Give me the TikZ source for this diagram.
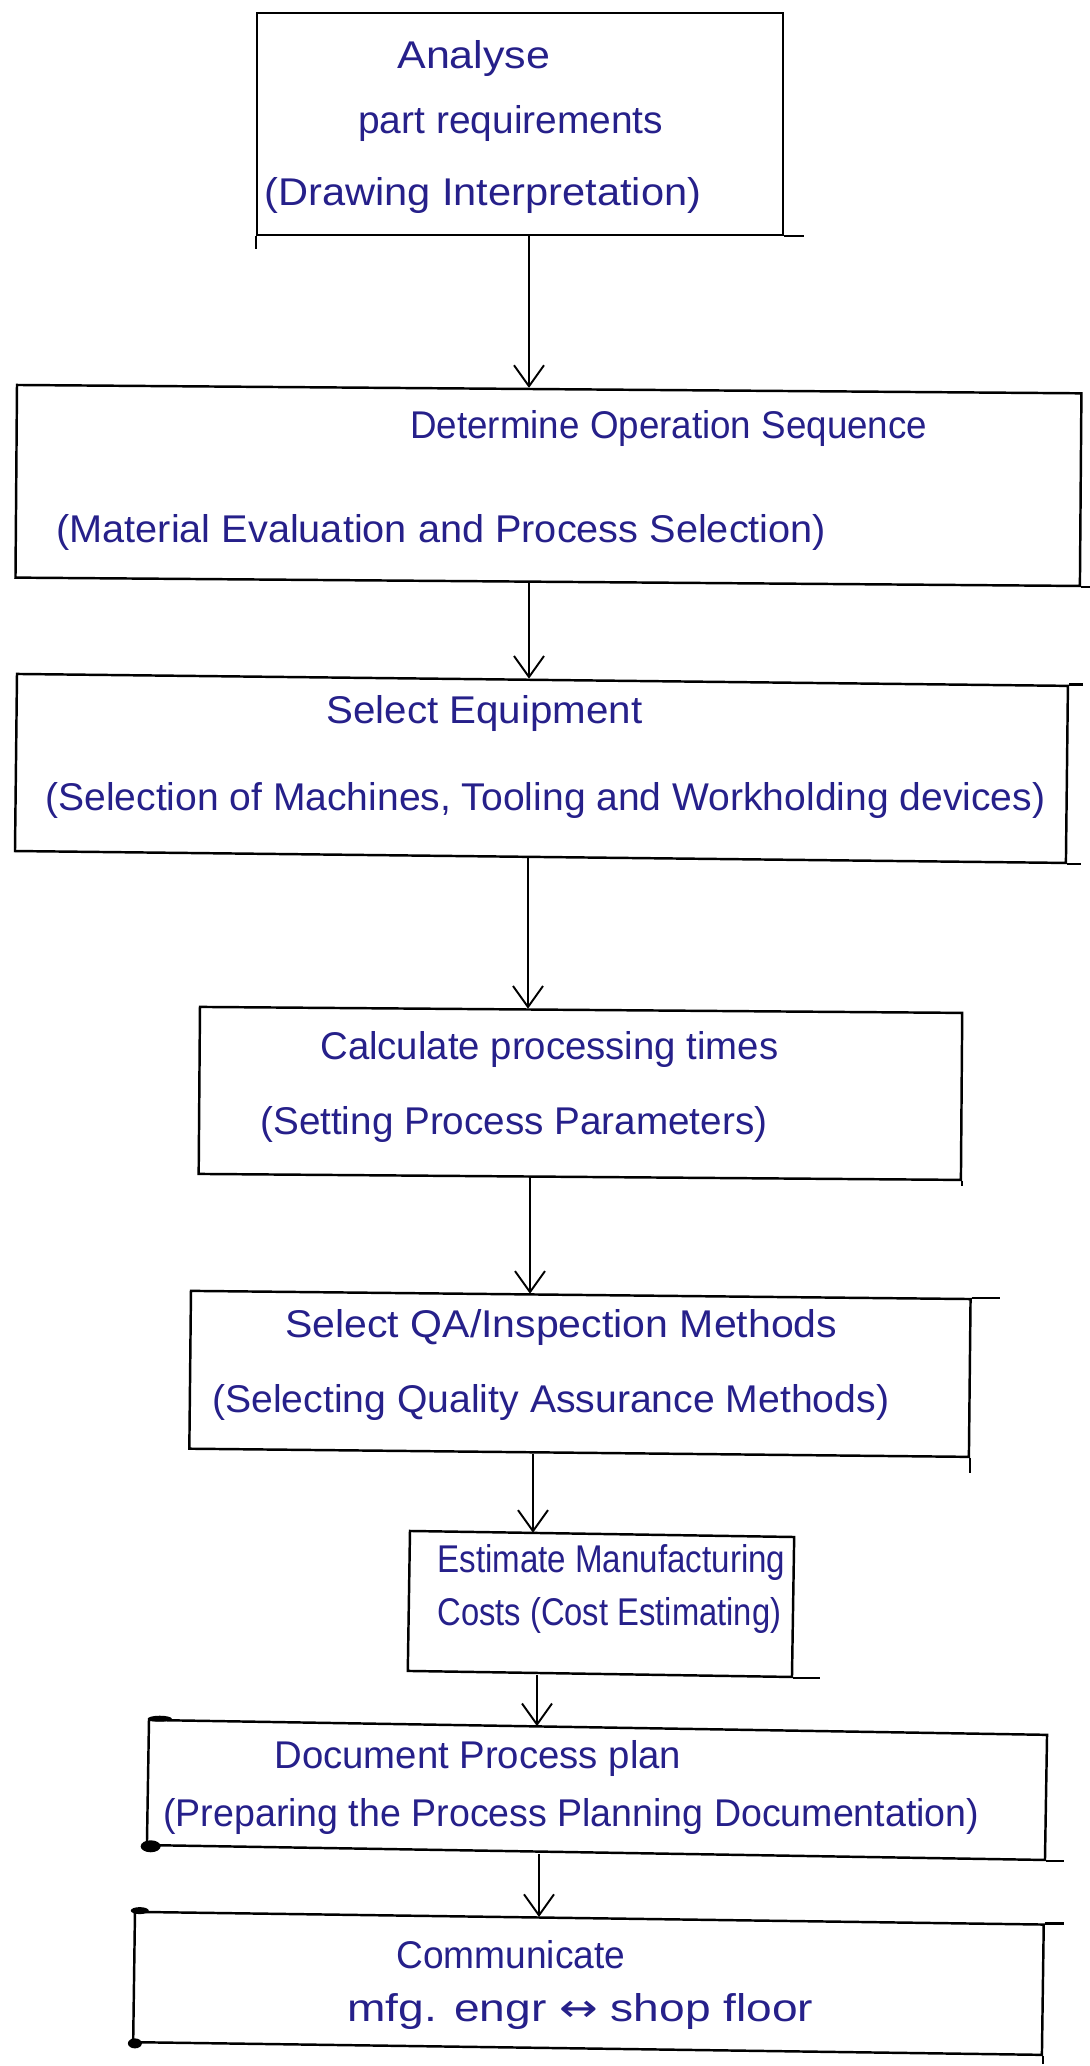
\documentclass[tikz,border=0pt]{standalone}
\usepackage{fontspec}
\setmainfont{Liberation Sans}
\newfontfamily\symfont{DejaVu Sans}
\usetikzlibrary{arrows.meta,fit}
\definecolor{ink}{RGB}{38,32,138}
% stretch a line of text horizontally to a given width, keeping its height
\newcommand{\wtext}[2]{\resizebox{#1}{\height}{#2}}
\tikzset{
  box/.style={draw=black, line width=1.4pt, rectangle, inner sep=0pt},
  edge/.style={draw=black, line width=1.4pt},
  arr/.style={draw=black, line width=1.1pt, -{Straight Barb[length=0.42cm, width=0.6cm, line width=1.1pt]}},
  txt/.style={anchor=base west, inner sep=0pt, text=ink, font=\fontsize{22pt}{26pt}\selectfont},
  blob/.style={fill=black}
}
\begin{document}
\begin{tikzpicture}[x=0.02cm, y=-0.02cm]
  \fill[white] (0,0) rectangle (1089,2066);
  \useasboundingbox (0,0) rectangle (1089,2066);

  % process boxes, hand-drawn with a slight downward slant to the right
  \node[box, fit={(257,13) (783,235)}] (b1) {};
  \node[box, rotate fit=-0.45, fit={(17,385) (1080,586)}] (b2) {};
  \node[box, rotate fit=-0.65, fit={(17,674) (1066,863)}] (b3) {};
  \node[box, rotate fit=-0.45, fit={(200,1007) (961,1180)}] (b4) {};
  \node[box, rotate fit=-0.6, fit={(191,1291) (969,1457)}] (b5) {};
  \node[box, rotate fit=-0.9, fit={(410,1531) (792,1677)}] (b6) {};
  \node[box, rotate fit=-0.95, fit={(149,1720) (1045,1860)}] (b7) {};
  \node[box, rotate fit=-0.8, fit={(135,1912) (1042,2055)}] (b8) {};

  % overshooting pen strokes at the corners
  \draw[edge] (b1.south west) -- ++(0,13);
  \draw[edge] (b1.south east) -- ++(20,0);
  \draw[edge] (b2.south east) -- ++(9,0);
  \draw[edge] (b3.north east) -- ++(14,0);
  \draw[edge] (b3.south east) -- ++(14,0);
  \draw[edge] (b4.south east) -- ++(0,5);
  \draw[edge] (b5.north east) -- ++(28,0);
  \draw[edge] (b5.south east) -- ++(0,15);
  \draw[edge] (b6.south east) -- ++(27,0);
  \draw[edge] (b7.south east) -- ++(18,0);
  \draw[edge] (b8.north east) -- ++(19,0);
  \draw[edge] (b8.south east) -- ++(0,8);
  \fill[blob] ([xshift=0.24cm]b7.north west) ellipse [x radius=0.24cm, y radius=0.06cm];
  \fill[blob] ([xshift=0.1cm]b7.south west) ellipse [x radius=0.2cm, y radius=0.12cm];
  \fill[blob] ([xshift=0.12cm]b8.north west) ellipse [x radius=0.18cm, y radius=0.07cm];
  \fill[blob] ([xshift=0.06cm]b8.south west) ellipse [x radius=0.14cm, y radius=0.1cm];

  % connector positions
  \coordinate (x1) at (529,0);
  \coordinate (x2) at (529,0);
  \coordinate (x3) at (528,0);
  \coordinate (x4) at (530,0);
  \coordinate (x5) at (533,0);
  \coordinate (x6) at (537,0);
  \coordinate (x7) at (539,0);

  \draw[arr] (b1.south -| x1) -- (b2.north -| x1);
  \draw[arr] (b2.south -| x2) -- (b3.north -| x2);
  \draw[arr] (b3.south -| x3) -- (b4.north -| x3);
  \draw[arr] (b4.south -| x4) -- (b5.north -| x4);
  \draw[arr] (b5.south -| x5) -- (b6.north -| x5);
  \draw[arr] (b6.south -| x6) -- (b7.north -| x6);
  \draw[arr] (b7.south -| x7) -- (b8.north -| x7);

  % texts
  \node[txt] (t1) at (397,68) {\wtext{3.06cm}{Analyse}};
  \node[txt] (t2) at (358,133) {\wtext{6.10cm}{part requirements}};
  \node[txt] (t3) at (264,205) {\wtext{8.74cm}{(Drawing Interpretation)}};

  \node[txt] (t4) at (410,438) {\wtext{10.34cm}{Determine Operation Sequence}};
  \node[txt] (t5) at (56,542) {\wtext{15.40cm}{(Material Evaluation and Process Selection)}};

  \node[txt] (t6) at (326,723) {\wtext{6.32cm}{Select Equipment}};
  \node[txt] (t7) at (45,810) {\wtext{20.00cm}{(Selection of Machines, Tooling and Workholding devices)}};

  \node[txt] (t8) at (320,1059) {\wtext{9.16cm}{Calculate processing times}};
  \node[txt] (t9) at (260,1134) {\wtext{10.14cm}{(Setting Process Parameters)}};

  \node[txt] (t10) at (285,1337) {\wtext{11.04cm}{Select QA/Inspection Methods}};
  \node[txt] (t11) at (212,1412) {\wtext{13.54cm}{(Selecting Quality Assurance Methods)}};

  \node[txt] (t12) at (437,1572) {\wtext{6.96cm}{Estimate Manufacturing}};
  \node[txt] (t13) at (437,1625) {\wtext{6.88cm}{Costs (Cost Estimating)}};

  \node[txt] (t14) at (274,1768) {\wtext{8.14cm}{Document Process plan}};
  \node[txt] (t15) at (163,1826) {\wtext{16.32cm}{(Preparing the Process Planning Documentation)}};

  \node[txt] (t16) at (396,1968) {\wtext{4.58cm}{Communicate}};
  \node[txt] (t17) at (347,2021) {\wtext{9.32cm}{mfg. engr {\symfont ↔} shop floor}};
\end{tikzpicture}
\end{document}
